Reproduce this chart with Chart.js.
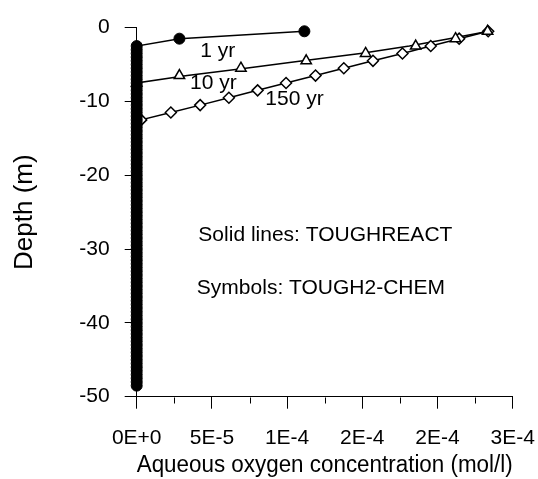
<!DOCTYPE html>
<html><head><meta charset="utf-8">
<script src="https://cdn.jsdelivr.net/npm/chart.js@4"></script>
<style>html,body{margin:0;padding:0;background:#fff;}</style>
</head><body>
<canvas id="c" width="538" height="479"></canvas>
<script>
// ---- data ----
const xTickLabels = ["0E+0","5E-5","1E-4","2E-4","2E-4","3E-4"];
const yTickLabels = ["-50","-40","-30","-20","-10","0"];
const seriesNames = ["1 yr","10 yr","150 yr"];
const noteLines = ["Solid lines: TOUGHREACT","Symbols: TOUGH2-CHEM"];

// TOUGH2-CHEM symbols
const sym1yrDepth = [-0.5,-1.5,
 -2.5,-3,-3.5,-4,-4.5,-5,-5.5,-6,-6.5,-7,
 -7.5,-8,-8.5,-9,-9.5,-10,-10.5,-11,-11.5,-12,
 -12.5,-13,-13.5,-14,-14.5,-15,-15.5,-16,-16.5,-17,
 -17.5,-18,-18.5,-19,-19.5,-20,-20.5,-21,-21.5,-22,
 -22.5,-23,-23.5,-24,-24.5,-25,-25.5,-26,-26.5,-27,
 -27.5,-28,-28.5,-29,-29.5,-30,-30.5,-31,-31.5,-32,
 -32.5,-33,-33.5,-34,-34.5,-35,-35.5,-36,-36.5,-37,
 -37.5,-38,-38.5,-39,-39.5,-40,-40.5,-41,-41.5,-42,
 -42.5,-43,-43.5,-44,-44.5,-45,-45.5,-46,-46.5,-47,
 -47.5,-48,-48.5];
const sym1yrConc = [1.115e-4,2.84e-5,
 0,0,0,0,0,0,0,0,0,0,
 0,0,0,0,0,0,0,0,0,0,
 0,0,0,0,0,0,0,0,0,0,
 0,0,0,0,0,0,0,0,0,0,
 0,0,0,0,0,0,0,0,0,0,
 0,0,0,0,0,0,0,0,0,0,
 0,0,0,0,0,0,0,0,0,0,
 0,0,0,0,0,0,0,0,0,0,
 0,0,0,0,0,0,0,0,0,0,
 0,0,0];
const sym10yrDepth = [-0.5,-1.5,-2.5,-3.5,-4.5,-5.5,-6.5,-7.5];
const sym10yrConc  = [2.333e-4,2.12e-4,1.855e-4,1.522e-4,1.127e-4,6.93e-5,2.84e-5,0];
const sym150yrDepth = [-0.5,-1.5,-2.5,-3.5,-4.5,-5.5,-6.5,-7.5,-8.5,-9.5,-10.5,-11.5,-12.5];
const sym150yrConc  = [2.337e-4,2.144e-4,1.955e-4,1.767e-4,1.571e-4,1.377e-4,1.189e-4,9.93e-5,8.04e-5,6.13e-5,4.22e-5,2.27e-5,3e-6];

// TOUGHREACT lines
const tr1yrDepth = [-0.5,-1.5,-2.5,-48.5];
const tr1yrConc  = [1.115e-4,2.84e-5,0,0];
const tr10yrDepth = [-0.5,-1.5,-2.5,-3.5,-4.5,-5.5,-6.5,-7.5,-48.5];
const tr10yrConc  = [2.34e-4,2.077e-4,1.813e-4,1.487e-4,1.106e-4,7.24e-5,3.36e-5,0,0];
const tr150yrDepth = [-0.5,-1.5,-2.5,-3.5,-4.5,-5.5,-6.5,-7.5,-8.5,-9.5,-10.5,-11.5,-12.5,-13.5,-48.5];
const tr150yrConc  = [2.337e-4,2.144e-4,1.955e-4,1.767e-4,1.571e-4,1.377e-4,1.189e-4,9.93e-5,8.04e-5,6.13e-5,4.22e-5,2.27e-5,3e-6,0,0];

function pts(xs, ys){ return xs.map((v,i)=>({x:v, y:ys[i]})); }

const FONT = "'Liberation Sans', Arial, Helvetica, sans-serif";

const extras = {
  id: 'extras',
  afterDraw(chart){
    const ctx = chart.ctx, xs = chart.scales.x, ys = chart.scales.y;
    ctx.save();
    // minor ticks on x axis
    ctx.strokeStyle = '#000'; ctx.lineWidth = 1;
    const t = xs.ticks;
    const yb = Math.round(ys.getPixelForValue(-50)) + 0.5;
    for (let i=0;i<t.length-1;i++){
      const px = Math.round(xs.getPixelForValue((t[i].value+t[i+1].value)/2)) + 0.5;
      ctx.beginPath(); ctx.moveTo(px, yb); ctx.lineTo(px, yb+6); ctx.stroke();
    }
    // labels
    ctx.fillStyle = '#000';
    ctx.font = "21px " + FONT;
    ctx.textBaseline = 'alphabetic';
    ctx.textAlign = 'left';
    const put = (s, xv, yv) => ctx.fillText(s, xs.getPixelForValue(xv), ys.getPixelForValue(yv));
    put(seriesNames[0], 4.22e-5, -3.93);
    put(seriesNames[1], 3.55e-5, -8.3);
    put(seriesNames[2], 8.55e-5, -10.52);
    put(noteLines[0], 4.1e-5, -28.85);
    put(noteLines[1], 4.0e-5, -36.15);
    ctx.restore();
  }
};

const symCommon = {showLine:false, borderColor:'#000', order:0, clip:false};
const lineCommon = {showLine:true, pointRadius:0, borderColor:'#000', borderWidth:1.5, order:1, fill:false, tension:0, clip:false};

new Chart(document.getElementById('c'), {
  type: 'scatter',
  data: {
    datasets: [
      Object.assign({label:'1 yr TOUGH2-CHEM', data: pts(sym1yrConc, sym1yrDepth), pointStyle:'circle', pointRadius:5.5, pointBackgroundColor:'#000', pointBorderWidth:1}, symCommon),
      Object.assign({label:'10 yr TOUGH2-CHEM', data: pts(sym10yrConc, sym10yrDepth), pointStyle:'triangle', pointRadius:6, pointBackgroundColor:'#fff', pointBorderWidth:1.5}, symCommon),
      Object.assign({label:'150 yr TOUGH2-CHEM', data: pts(sym150yrConc, sym150yrDepth), pointStyle:'rectRot', pointRadius:5.5, pointBackgroundColor:'#fff', pointBorderWidth:1.5}, symCommon),
      Object.assign({label:'1 yr TOUGHREACT', data: pts(tr1yrConc, tr1yrDepth)}, lineCommon),
      Object.assign({label:'10 yr TOUGHREACT', data: pts(tr10yrConc, tr10yrDepth)}, lineCommon),
      Object.assign({label:'150 yr TOUGHREACT', data: pts(tr150yrConc, tr150yrDepth)}, lineCommon)
    ]
  },
  options: {
    responsive:false, animation:false, devicePixelRatio:1,
    layout:{padding:{left:0, right:25.3, top:21, bottom:0}},
    plugins:{legend:{display:false}, tooltip:{enabled:false}},
    events:[],
    scales:{
      x:{
        type:'linear', position:'bottom', min:0, max:2.5e-4,
        afterFit(s){ s.height = 82.3; s.paddingRight = 21; s.paddingLeft = 21; },
        ticks:{stepSize:5e-5, autoSkip:false, maxRotation:0, color:'#000', padding:17,
               font:{family:FONT, size:21},
               callback:(v,i)=>xTickLabels[i]},
        grid:{drawOnChartArea:false, drawTicks:true, tickLength:12, color:'#000', lineWidth:1},
        border:{display:true, color:'#000', width:1},
        title:{display:true, text:'Aqueous oxygen concentration (mol/l)', color:'#000',
               font:{family:FONT, size:23}, padding:{top:0, bottom:0}}
      },
      y:{
        type:'linear', position:'left', min:-50, max:0,
        afterFit(s){ s.width = 136.7; },
        ticks:{stepSize:10, autoSkip:false, color:'#000', padding:15,
               font:{family:FONT, size:21},
               callback:(v,i)=>yTickLabels[i]},
        grid:{drawOnChartArea:false, drawTicks:true, tickLength:12, color:'#000', lineWidth:1},
        border:{display:true, color:'#000', width:1},
        title:{display:true, text:'Depth (m)', color:'#000',
               font:{family:FONT, size:26}, padding:{top:9, bottom:0}}
      }
    }
  },
  plugins:[extras]
});
</script>
</body></html>
